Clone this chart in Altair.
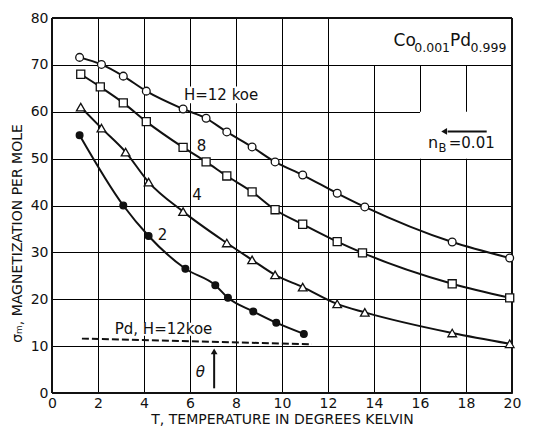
import altair as alt
import pandas as pd

# ---- data ----
X_TICKS = [0, 2, 4, 6, 8, 10, 12, 14, 16, 18, 20]
Y_TICKS = [0, 10, 20, 30, 40, 50, 60, 70, 80]

T12 = [1.2, 2.15, 3.1, 4.1, 5.7, 6.7, 7.6, 8.7, 9.7, 10.9, 12.4, 13.6, 17.4, 19.9]
S12 = [71.6, 70.1, 67.6, 64.4, 60.6, 58.6, 55.7, 52.5, 49.3, 46.5, 42.6, 39.7, 32.2, 28.8]

T8 = [1.25, 2.1, 3.1, 4.1, 5.7, 6.7, 7.6, 8.7, 9.7, 10.9, 12.4, 13.5, 17.4, 19.9]
S8 = [68.0, 65.3, 61.9, 57.9, 52.4, 49.3, 46.3, 42.9, 39.1, 36.0, 32.3, 29.9, 23.3, 20.3]

T4 = [1.25, 2.15, 3.2, 4.2, 5.7, 7.6, 8.7, 9.7, 10.9, 12.4, 13.6, 17.4, 19.9]
S4 = [61.0, 56.5, 51.4, 45.0, 38.7, 32.0, 28.4, 25.2, 22.6, 19.0, 17.2, 12.8, 10.5]

T2 = [1.2, 3.1, 4.2, 5.8, 7.1, 7.65, 8.75, 9.75, 10.95]
S2 = [55.0, 40.0, 33.5, 26.5, 23.0, 20.3, 17.4, 15.0, 12.6]

T_PD = [1.3, 11.3]
S_PD = [11.6, 10.4]

FONT = "DejaVu Sans"
INK = "#111"

def frame(t, s):
    return pd.DataFrame({"T": t, "sigma": s})

xs = alt.Scale(domain=[0, 20], nice=False, zero=False)
ys = alt.Scale(domain=[0, 80], nice=False, zero=False)

X = alt.X("T:Q", scale=xs, axis=alt.Axis(
    values=X_TICKS, title="T, TEMPERATURE IN DEGREES KELVIN", grid=True,
    domain=False, ticks=False, labelPadding=3, titlePadding=2,
    labelFont=FONT, labelFontSize=14, labelColor=INK,
    titleFont=FONT, titleFontSize=14, titleFontWeight="normal", titleColor=INK,
    gridColor="#000", gridWidth=1, gridOpacity=1, labelFlush=False))
Y = alt.Y("sigma:Q", scale=ys, axis=alt.Axis(
    values=Y_TICKS, title="σₘ,  MAGNETIZATION  PER  MOLE", grid=True,
    domain=False, ticks=False, labelPadding=4, titlePadding=6,
    labelFont=FONT, labelFontSize=14, labelColor=INK,
    titleFont=FONT, titleFontSize=14, titleFontWeight="normal", titleColor=INK,
    titleY=215, titleAnchor="middle",
    gridColor="#000", gridWidth=1, gridOpacity=1, labelFlush=False))
X2 = alt.X2("T2:Q")
Y2 = alt.Y2("sigma2:Q")

# white label boxes that interrupt the grid
boxes = pd.DataFrame({
    "T": [14, 16, 5.8, 2.3],
    "T2": [20, 20, 9.0, 7.5],
    "sigma": [70, 50, 61.8, 12.2],
    "sigma2": [80, 60, 65.4, 15.0],
})
box_layer = alt.Chart(boxes).mark_rect(fill="white").encode(x=X, x2=X2, y=Y, y2=Y2)

frame_v = alt.Chart(frame([0, 20], [0, 0])).mark_rule(color=INK, strokeWidth=2).encode(x=X)
frame_h = alt.Chart(frame([0, 0], [0, 80])).mark_rule(color=INK, strokeWidth=2).encode(y=Y)

def curve(t, s):
    return alt.Chart(frame(t, s)).mark_line(
        color=INK, strokeWidth=2, interpolate="monotone").encode(x=X, y=Y)

def pts(t, s, shape, filled, size):
    return alt.Chart(frame(t, s)).mark_point(
        shape=shape, filled=True, fill=INK if filled else "white",
        stroke=INK, strokeWidth=1.3, size=size, opacity=1).encode(x=X, y=Y)

lines = [
    curve(T12, S12), curve(T8, S8), curve(T4, S4), curve(T2, S2),
    alt.Chart(frame(T_PD, S_PD)).mark_line(color=INK, strokeWidth=2, strokeDash=[7, 3]).encode(x=X, y=Y),
]
points = [
    pts(T12, S12, "circle", False, 60),
    pts(T8, S8, "square", False, 65),
    pts(T4, S4, "triangle-up", False, 75),
    pts(T2, S2, "circle", True, 45),
]

def label(t, s, text, size=14, align="center", style="normal"):
    return alt.Chart(pd.DataFrame({"T": [t], "sigma": [s], "txt": [text]})).mark_text(
        font=FONT, fontSize=size, align=align, baseline="middle", color=INK,
        fontStyle=style).encode(x=X, y=Y, text="txt:N")

labels = [
    label(7.35, 63.5, "H=12 koe", 15),
    label(6.5, 52.7, "8", 15),
    label(6.3, 42.2, "4", 15),
    label(4.8, 33.7, "2", 15),
    label(4.85, 13.6, "Pd, H=12koe", 15),
    label(6.45, 4.5, "θ", 15, style="italic"),
    # Co0.001 Pd0.999
    label(14.85, 75.2, "Co", 17, "left"),
    label(15.75, 73.7, "0.001", 12.5, "left"),
    label(17.3, 75.2, "Pd", 17, "left"),
    label(18.2, 73.7, "0.999", 12.5, "left"),
    # nB = 0.01
    label(16.35, 53.4, "n", 16, "left"),
    label(16.8, 52.1, "B", 11.5, "left"),
    label(17.25, 53.4, "=0.01", 15, "left"),
]

# arrows
theta_shaft = alt.Chart(pd.DataFrame({"T": [7.05], "sigma": [1.0], "sigma2": [8.8]})).mark_rule(
    color=INK, strokeWidth=2).encode(x=X, y=Y, y2=Y2)
theta_head = alt.Chart(frame([7.05], [8.9])).mark_point(
    shape="triangle-up", filled=True, color=INK, size=45, opacity=1).encode(x=X, y=Y)
nb_shaft = alt.Chart(pd.DataFrame({"T": [17.2], "T2": [18.9], "sigma": [55.8]})).mark_rule(
    color=INK, strokeWidth=2).encode(x=X, x2=X2, y=Y)
nb_head = alt.Chart(frame([17.05], [55.8])).mark_point(
    shape="triangle-left", filled=True, color=INK, size=45, opacity=1).encode(x=X, y=Y)

chart = alt.layer(
    box_layer, frame_v, frame_h, *lines, *points, *labels,
    theta_shaft, theta_head, nb_shaft, nb_head,
).properties(
    width=460, height=375,
    autosize=alt.AutoSizeParams(type="none"),
    padding={"left": 52, "top": 18, "right": 22, "bottom": 34},
    background="white",
).configure_view(stroke=None)

chart.save("out.html", embed_options={"renderer": "svg", "actions": False})
